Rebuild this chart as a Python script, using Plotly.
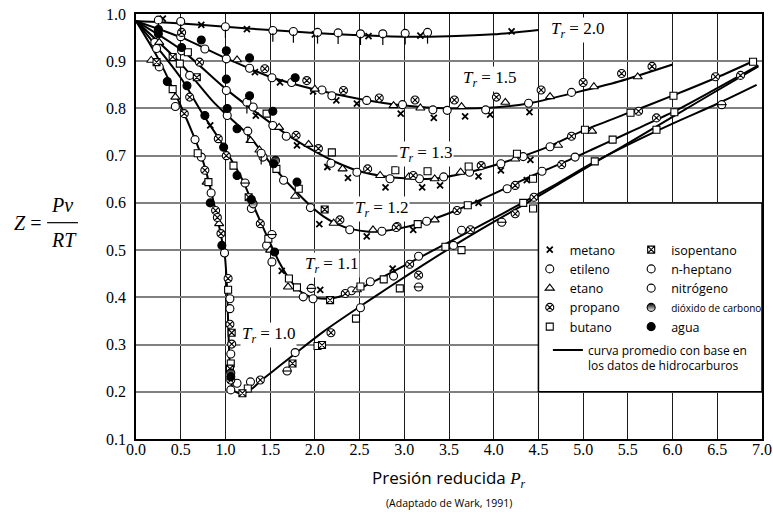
import plotly.graph_objects as go

# ---------------- average curves ----------------
PR_TR20 = [0, 0.5, 1.0, 1.5, 2.0, 2.5, 3.0, 3.5, 4.0, 4.5]
Z_TR20 = [0.985, 0.980, 0.973, 0.966, 0.960, 0.955, 0.952, 0.953, 0.957, 0.966]

PR_TR15 = [0, 0.5, 1.0, 1.5, 2.0, 2.5, 3.0, 3.5, 4.0, 4.4, 4.9, 5.4, 6.0]
Z_TR15 = [0.985, 0.951, 0.907, 0.867, 0.840, 0.820, 0.806, 0.800, 0.802, 0.811, 0.833, 0.857, 0.893]

PR_TR13 = [0, 0.5, 1.0, 1.5, 1.75, 2.0, 2.25, 2.5, 2.75, 3.0, 3.3, 3.7, 4.1, 4.6, 5.0, 5.5, 6.0, 6.5, 6.9]
Z_TR13 = [0.985, 0.925, 0.842, 0.770, 0.737, 0.709, 0.685, 0.667, 0.657, 0.652, 0.651, 0.664, 0.685,
          0.718, 0.753, 0.790, 0.827, 0.866, 0.900]

PR_TR12 = [0, 0.5, 0.86, 1.0, 1.25, 1.5, 1.65, 1.8, 1.95, 2.1, 2.25, 2.4, 2.6, 2.75, 2.95, 3.2, 3.5,
           3.8, 4.1, 4.4, 4.75, 5.1, 5.5, 6.0, 6.5, 6.96]
Z_TR12 = [0.985, 0.895, 0.815, 0.789, 0.745, 0.685, 0.652, 0.622, 0.594, 0.571, 0.555, 0.545, 0.539,
          0.540, 0.546, 0.558, 0.578, 0.602, 0.628, 0.655, 0.683, 0.713, 0.748, 0.792, 0.843, 0.891]

PR_TR11 = [0, 0.5, 0.75, 0.92, 1.0, 1.1, 1.2, 1.3, 1.4, 1.5, 1.6, 1.7, 1.8, 1.9, 2.0, 2.2, 2.4, 2.6,
           2.8, 3.1, 3.5, 3.9, 4.3, 4.7, 5.1, 5.5, 6.0, 6.5, 6.94]
Z_TR11 = [0.985, 0.865, 0.787, 0.738, 0.712, 0.680, 0.645, 0.600, 0.557, 0.515, 0.475, 0.443, 0.419,
          0.405, 0.399, 0.398, 0.410, 0.428, 0.447, 0.477, 0.517, 0.557, 0.598, 0.640, 0.684, 0.723,
          0.768, 0.810, 0.850]

PR_TR10 = [0, 0.25, 0.49, 0.66, 0.73, 0.81, 0.88, 0.93, 0.97, 0.995, 1.015, 1.03, 1.045, 1.06, 1.09,
           1.18, 1.3, 1.4, 1.6, 1.8, 2.1, 2.5, 2.85, 3.2, 3.6, 4.0, 4.4, 4.8, 5.2, 5.6, 6.0, 6.5, 6.96]
Z_TR10 = [0.985, 0.905, 0.81, 0.735, 0.70, 0.648, 0.592, 0.550, 0.512, 0.485, 0.43, 0.35, 0.27, 0.225,
          0.203, 0.196, 0.207, 0.224, 0.254, 0.284, 0.328, 0.380, 0.424, 0.467, 0.515, 0.560, 0.603,
          0.648, 0.693, 0.737, 0.782, 0.838, 0.889]

TR_LABELS = ["2.0", "1.5", "1.3", "1.2", "1.1", "1.0"]

# ---------------- experimental points per substance ----------------
PR_METANO = [0.30, 0.73, 1.24, 2.00, 2.60, 3.18, 4.20,
             1.33, 1.61, 1.98, 2.24, 2.47, 2.96, 3.33, 3.68, 3.96, 4.40,
             1.34, 1.80, 2.14, 2.37, 2.79, 3.20, 3.40, 3.83, 4.08, 4.41,
             2.05, 2.58, 3.10, 3.83, 4.37,
             0.83, 1.63, 2.06, 2.87]
Z_METANO = [0.990, 0.977, 0.968, 0.957, 0.953, 0.954, 0.963,
            0.877, 0.855, 0.836, 0.817, 0.810, 0.789, 0.780, 0.783, 0.787, 0.792,
            0.785, 0.722, 0.676, 0.653, 0.633, 0.633, 0.637, 0.656, 0.669, 0.691,
            0.555, 0.529, 0.543, 0.600, 0.648,
            0.764, 0.456, 0.416, 0.461]

PR_ETILENO = [0.50, 0.77, 1.01, 1.27, 1.52, 1.74, 2.08, 2.19, 2.58, 2.98, 3.32, 3.48, 3.91, 4.39, 4.87,
              0.51, 1.01, 1.31, 1.53, 1.68, 2.18, 2.47, 2.84, 3.17, 3.44, 3.73, 4.08, 4.33, 4.63,
              0.21, 0.60, 1.02, 1.42, 1.65, 1.95, 2.39, 2.75, 2.92, 3.25, 4.15, 4.54, 4.91,
              0.23, 1.29, 1.46, 1.52, 1.87, 1.98, 2.41, 2.62, 2.88, 3.16, 3.55, 3.64,
              0.26, 0.44, 0.66, 0.73, 0.84, 0.99, 1.05, 1.05, 1.06, 1.06, 1.13, 1.28, 1.78, 2.51]
Z_ETILENO = [0.952, 0.926, 0.905, 0.885, 0.865, 0.855, 0.839, 0.827, 0.817, 0.808, 0.797, 0.796, 0.797,
             0.811, 0.834,
             0.922, 0.838, 0.803, 0.764, 0.741, 0.684, 0.665, 0.651, 0.651, 0.655, 0.665, 0.683, 0.698,
             0.719,
             0.940, 0.870, 0.785, 0.697, 0.648, 0.590, 0.543, 0.540, 0.550, 0.561, 0.630, 0.667, 0.697,
             0.927, 0.588, 0.510, 0.475, 0.401, 0.397, 0.414, 0.433, 0.445, 0.487, 0.510, 0.542,
             0.888, 0.804, 0.734, 0.697, 0.621, 0.494, 0.397, 0.376, 0.280, 0.204, 0.218, 0.221, 0.283,
             0.378]

PR_ETANO = [1.13, 2.00, 2.88, 3.18, 3.64, 4.13, 4.63, 5.12, 5.61,
            1.60, 1.93, 2.31, 2.73, 3.05, 3.34, 3.63, 4.24, 4.72, 5.10,
            0.26, 1.28, 1.38, 1.78, 2.21, 2.65, 3.34,
            1.50, 1.70, 2.47,
            0.17, 0.44, 0.79, 0.93]
Z_ETANO = [0.903, 0.841, 0.806, 0.801, 0.804, 0.813, 0.825, 0.846, 0.867,
           0.760, 0.724, 0.672, 0.658, 0.655, 0.651, 0.665, 0.693, 0.722, 0.752,
           0.940, 0.732, 0.712, 0.614, 0.557, 0.543, 0.564,
           0.500, 0.422, 0.416,
           0.902, 0.824, 0.644, 0.556]

PR_PROPANO = [0.51, 1.44, 1.91, 2.32, 2.72, 3.12, 3.56, 4.03, 4.53, 5.00, 5.43, 5.77,
              0.71, 1.79, 2.04, 2.59, 3.10, 3.86, 4.87, 5.62, 6.48,
              2.28, 2.91, 3.59, 4.24, 4.76, 5.82, 6.76,
              0.60, 0.92, 1.01, 1.39, 2.34, 3.06, 3.74, 4.45,
              0.54, 0.77, 0.89, 0.91, 0.95, 1.03, 1.05, 1.07, 1.06, 1.39, 2.18, 3.16, 4.24]
Z_PROPANO = [0.961, 0.884, 0.859, 0.838, 0.822, 0.818, 0.818, 0.824, 0.839, 0.855, 0.874, 0.889,
             0.898, 0.743, 0.715, 0.672, 0.658, 0.679, 0.741, 0.794, 0.867,
             0.564, 0.548, 0.584, 0.637, 0.681, 0.780, 0.870,
             0.824, 0.736, 0.700, 0.556, 0.408, 0.470, 0.543, 0.612,
             0.789, 0.669, 0.584, 0.569, 0.535, 0.440, 0.343, 0.301, 0.225, 0.225, 0.325, 0.447, 0.577]

PR_BUTANO = [0.58, 1.46, 2.19, 2.90, 3.26, 3.72, 4.26, 5.02, 5.53, 6.01, 6.90,
             0.49, 1.57, 1.82, 3.15, 3.71, 4.44, 5.33, 6.02,
             0.41, 1.09, 1.48, 1.71, 1.80, 2.51, 2.77, 3.46, 4.33, 5.13, 5.82,
             0.69, 0.81, 1.03, 1.06, 1.25, 2.03, 2.46, 2.95, 3.64, 4.44]
Z_BUTANO = [0.919, 0.789, 0.707, 0.669, 0.667, 0.677, 0.704, 0.755, 0.791, 0.827, 0.899,
            0.895, 0.672, 0.630, 0.555, 0.595, 0.651, 0.734, 0.792,
            0.841, 0.679, 0.524, 0.440, 0.421, 0.423, 0.438, 0.507, 0.600, 0.688, 0.755,
            0.705, 0.644, 0.416, 0.260, 0.207, 0.297, 0.355, 0.419, 0.500, 0.588]

PR_ISOPENTANO = [0.23, 0.41, 0.68, 1.26, 2.11, 2.17, 2.08, 1.75, 1.19, 1.07, 1.05]
Z_ISOPENTANO = [0.898, 0.909, 0.866, 0.612, 0.586, 0.394, 0.299, 0.260, 0.197, 0.325, 0.249]

PR_HEPTANO = [1.22, 1.52, 1.96, 1.69, 3.16, 4.09, 6.55]
Z_HEPTANO = [0.642, 0.533, 0.419, 0.244, 0.422, 0.559, 0.808]

PR_NITROGENO = [0.25, 0.50, 1.00, 1.53, 1.76, 2.03, 2.26, 2.51, 2.76, 3.01, 3.26, 1.24, 1.25, 1.40]
Z_NITROGENO = [0.987, 0.984, 0.973, 0.965, 0.963, 0.961, 0.960, 0.958, 0.958, 0.959, 0.961, 0.813,
               0.752, 0.705]

PR_CO2 = [1.56, 1.31, 1.06]
Z_CO2 = [0.690, 0.598, 0.240]

PR_AGUA = [0.25, 0.25, 0.73, 1.01, 1.27, 1.78, 0.51, 1.01, 1.27, 1.53, 0.35, 0.57, 0.77, 1.02, 1.13,
           1.54, 1.80, 0.98, 1.13, 1.29, 1.55, 0.83, 0.96, 1.06]
Z_AGUA = [0.967, 0.958, 0.945, 0.922, 0.907, 0.865, 0.929, 0.862, 0.827, 0.794, 0.857, 0.848, 0.785,
          0.800, 0.757, 0.683, 0.644, 0.718, 0.658, 0.607, 0.496, 0.600, 0.510, 0.232]

X_TICKS = [0.0, 0.5, 1.0, 1.5, 2.0, 2.5, 3.0, 3.5, 4.0, 4.5, 5.0, 5.5, 6.0, 6.5, 7.0]
Y_TICKS = [0.1, 0.2, 0.3, 0.4, 0.5, 0.6, 0.7, 0.8, 0.9, 1.0]

# ---------------- figure ----------------
fig = go.Figure()

curves = [(PR_TR20, Z_TR20), (PR_TR15, Z_TR15), (PR_TR13, Z_TR13),
          (PR_TR12, Z_TR12), (PR_TR11, Z_TR11), (PR_TR10, Z_TR10)]
for i, (cx, cy) in enumerate(curves):
    fig.add_trace(go.Scatter(
        x=cx, y=cy, mode="lines",
        line=dict(color="black", width=2, shape="spline", smoothing=0.8),
        name="curva promedio con base en<br>los datos de hidrocarburos",
        legend="legend3", showlegend=(i == 0), hoverinfo="skip"))

MK_LINE = dict(color="black", width=1.1)


def add_pts(x, y, name, symbol, legend, size=8, color="white", showlegend=True, **extra):
    marker = dict(symbol=symbol, size=size, color=color, line=MK_LINE)
    marker.update(extra)
    fig.add_trace(go.Scatter(x=x, y=y, mode="markers", name=name, legend=legend,
                             showlegend=showlegend, marker=marker))


# column 1 of legend
fig.add_trace(go.Scatter(x=PR_METANO, y=Z_METANO, mode="markers", name="metano", legend="legend",
                         marker=dict(symbol="x-thin", size=6, color="black",
                                     line=dict(color="black", width=1.8))))
add_pts(PR_ETILENO, Z_ETILENO, "etileno", "circle", "legend")
add_pts(PR_ETANO, Z_ETANO, "etano", "triangle-up", "legend", size=8)
add_pts(PR_PROPANO, Z_PROPANO, "propano", "circle-x", "legend")
add_pts(PR_BUTANO, Z_BUTANO, "butano", "square", "legend", size=7)

# column 2 of legend
add_pts(PR_ISOPENTANO, Z_ISOPENTANO, "isopentano", "square-x", "legend2", size=7)
add_pts(PR_HEPTANO, Z_HEPTANO, "n-heptano", "circle", "legend2")
fig.add_trace(go.Scatter(x=PR_HEPTANO, y=Z_HEPTANO, mode="markers", showlegend=False,
                         marker=dict(symbol="line-ew", size=7, line=dict(color="black", width=1.1))))
add_pts(PR_NITROGENO, Z_NITROGENO, "nitrógeno", "circle", "legend2")
fig.add_trace(go.Scatter(x=PR_NITROGENO, y=Z_NITROGENO, mode="markers", showlegend=False,
                         marker=dict(symbol="line-ns", size=6, angle=0, standoff=7,
                                     line=dict(color="black", width=1.2))))
add_pts(PR_CO2, Z_CO2, '<span style="font-size:10px">dióxido de carbono</span>', "circle", "legend2",
        color="black", gradient=dict(type="vertical", color="white"))
add_pts(PR_AGUA, Z_AGUA, "agua", "circle", "legend2", color="black")

# white legend box
fig.add_shape(type="rect", xref="x", yref="y", x0=4.5, x1=7.0, y0=0.2, y1=0.6,
              fillcolor="white", line=dict(color="black", width=1.5), layer="between")

# Tr labels
label_pos = [(4.94, 0.967), (3.95, 0.863), (3.24, 0.703), (2.75, 0.588), (2.19, 0.468), (1.48, 0.32)]
for lab, (lx, ly) in zip(TR_LABELS, label_pos):
    fig.add_annotation(x=lx, y=ly, xref="x", yref="y", showarrow=False,
                       xanchor="center", yanchor="middle",
                       text=f"<i>T</i><sub><i>r</i></sub> = {lab}",
                       font=dict(family="Liberation Serif", size=17, color="black"),
                       bgcolor="white", borderpad=1)

# y label Z = Pv/RT
SERIF20 = dict(family="Liberation Serif", size=20, color="black")
fig.add_annotation(x=-0.174, y=0.508, xref="paper", yref="paper", showarrow=False,
                   xanchor="center", yanchor="middle", text="<i>Z</i> =", font=SERIF20)
fig.add_annotation(x=-0.118, y=0.551, xref="paper", yref="paper", showarrow=False,
                   xanchor="center", yanchor="middle", text="<i>Pv</i>", font=SERIF20)
fig.add_annotation(x=-0.115, y=0.469, xref="paper", yref="paper", showarrow=False,
                   xanchor="center", yanchor="middle", text="<i>RT</i>", font=SERIF20)
fig.add_shape(type="line", xref="paper", yref="paper", x0=-0.142, x1=-0.0927, y0=0.509, y1=0.509,
              line=dict(color="black", width=1.2))

# x title and source
fig.add_annotation(x=0.5, y=-0.094, xref="paper", yref="paper", showarrow=False,
                   xanchor="center", yanchor="middle",
                   text='Presión reducida <span style="font-family:Liberation Serif"><i>P</i><sub><i>r</i></sub></span>',
                   font=dict(family="Open Sans", size=17, color="black"))
fig.add_annotation(x=0.5, y=-0.151, xref="paper", yref="paper", showarrow=False,
                   xanchor="center", yanchor="middle",
                   text="(Adaptado de Wark, 1991)",
                   font=dict(family="Open Sans", size=10.5, color="black"))

legend_common = dict(bgcolor="rgba(0,0,0,0)", borderwidth=0, xanchor="left", yanchor="top",
                     font=dict(family="Open Sans", size=12.5, color="black"), tracegroupgap=0)

fig.update_layout(
    width=773, height=514,
    margin=dict(l=136, r=11, t=14, b=75, autoexpand=False),
    paper_bgcolor="white", plot_bgcolor="white",
    showlegend=True,
    legend=dict(x=0.629, y=0.480, **legend_common),
    legend2=dict(x=0.791, y=0.480, **legend_common),
    legend3=dict(x=0.658, y=0.243, valign="top",
                 bgcolor="rgba(0,0,0,0)", borderwidth=0, xanchor="left", yanchor="top",
                 font=dict(family="Open Sans", size=12, color="black")),
    xaxis=dict(range=[0, 7], tickvals=X_TICKS, ticktext=[f"{v:.1f}" for v in X_TICKS],
               showgrid=True, gridcolor="#1a1a1a", gridwidth=1.2, zeroline=False,
               showline=True, linecolor="black", linewidth=1.5, mirror=True, ticks="",
               ticklabelstandoff=-5,
               tickfont=dict(family="Liberation Serif", size=16, color="black")),
    yaxis=dict(range=[0.1, 1.0], tickvals=Y_TICKS, ticktext=[f"{v:.1f}" for v in Y_TICKS],
               showgrid=True, gridcolor="#808080", gridwidth=2, zeroline=False,
               showline=True, linecolor="black", linewidth=1.5, mirror=True, ticks="",
               ticklabelstandoff=5,
               tickfont=dict(family="Liberation Serif", size=16, color="black")),
)

fig.write_html("out.html", config={"displayModeBar": False},
               post_script="document.body.style.margin='0';document.body.style.overflow='hidden';")
